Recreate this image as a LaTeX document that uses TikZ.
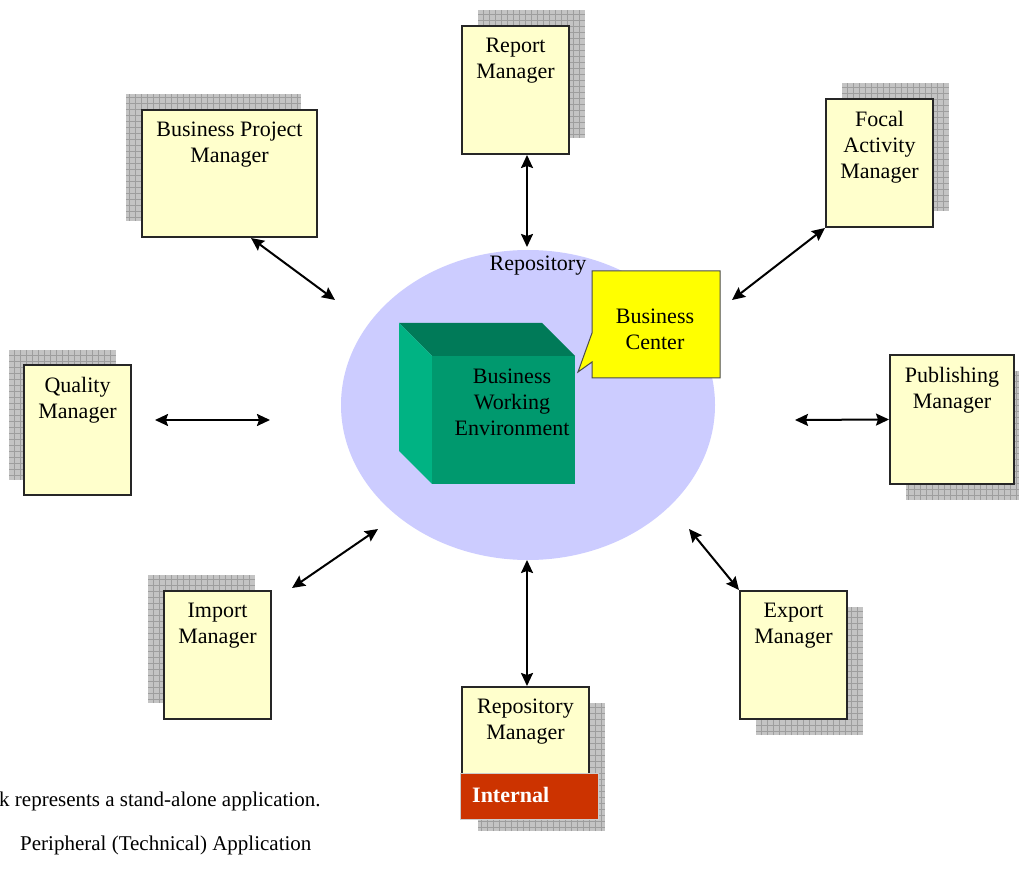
\documentclass[tikz,border=0pt]{standalone}
\usepackage{fontspec}
\setmainfont{Liberation Serif}
\usetikzlibrary{positioning,arrows.meta,shapes.geometric}
\definecolor{appyellow}{HTML}{FFFFCC}
\definecolor{gridgray}{HTML}{C4C4C4}
\definecolor{gridline}{HTML}{9E9E9E}
\definecolor{repoblue}{HTML}{CCCCFF}
\definecolor{cubefront}{HTML}{00996E}
\definecolor{cubetop}{HTML}{007A58}
\definecolor{cubeleft}{HTML}{00B383}
\definecolor{calloutyellow}{HTML}{FFFF00}
\definecolor{internalred}{HTML}{CC3300}
\begin{document}
\begin{tikzpicture}[x=1pt,y=1pt,
	app/.style={draw=black!85, line width=2pt, fill=appyellow, minimum width=107pt, minimum height=128pt, inner sep=0pt},
	shadowbox/.style={fill=gridgray, minimum width=107pt, minimum height=128pt, inner sep=0pt,
		path picture={\draw[gridline, line width=0.5pt] (path picture bounding box.south west) grid[step=6pt] (path picture bounding box.north east);}},
	lbl/.style={inner sep=0pt, align=center, font=\fontsize{22}{26}\selectfont},
	note/.style={anchor=west, inner sep=0pt, font=\fontsize{21}{25}\selectfont},
	link/.style={{Stealth[length=13pt,width=12pt,inset=2pt]}-{Stealth[length=13pt,width=12pt,inset=2pt]}, line width=2pt}]
	\useasboundingbox (0,0) rectangle (1019,868);
	\fill[white] (0,0) rectangle (1019,868);
	
	% Repository with the business working environment
	\node[ellipse, fill=repoblue, minimum width=374pt, minimum height=310pt, inner sep=0pt] (repo) at (528,463) {};
	\node[lbl] (repo-t) at (538,602) {Repository};
	\fill[cubetop] (399,545) -- (542,545) -- (575,512) -- (432,512) -- cycle;
	\fill[cubeleft] (399,545) -- (432,512) -- (432,384) -- (399,417) -- cycle;
	\node[fill=cubefront, minimum width=143pt, minimum height=128pt, inner sep=0pt] (bwe) at (503.5,448) {};
	\node[lbl] (bwe-t) at (512,466) {Business\\Working\\Environment};
	\filldraw[fill=calloutyellow, draw=black!70, line width=1pt] (592,597) -- (720,597) -- (720,490) -- (592,490) -- (592,506) -- (578,496) -- (592,535) -- cycle;
	\node[lbl] (bc-t) at (655,539) {Business\\Center};
	
	% Report Manager
	\node[shadowbox] (rm-s) at (531.5,794) {};
	\node[app] (rm) at (515.5,778) {};
	\node[lbl, below=13pt of rm.north] (rm-t) {Report\\Manager};
	
	% Business Project Manager
	\node[shadowbox, minimum width=175pt, minimum height=127pt] (bpm-s) at (213.5,710.5) {};
	\node[app, minimum width=175pt, minimum height=127pt] (bpm) at (229.5,694.5) {};
	\node[lbl, below=13pt of bpm.north] (bpm-t) {Business Project\\Manager};
	
	% Focal Activity Manager
	\node[shadowbox] (fam-s) at (895.5,721) {};
	\node[app] (fam) at (879.5,705) {};
	\node[lbl, below=13pt of fam.north] (fam-t) {Focal\\Activity\\Manager};
	
	% Quality Manager
	\node[shadowbox, minimum height=130pt] (qm-s) at (62.5,453) {};
	\node[app, minimum height=130pt] (qm) at (77.5,438) {};
	\node[lbl, below=13pt of qm.north] (qm-t) {Quality\\Manager};
	
	% Publishing Manager
	\node[shadowbox, minimum width=124pt, minimum height=129pt] (pm-s) at (968,432.5) {};
	\node[app, minimum width=124pt, minimum height=129pt] (pm) at (952,448.5) {};
	\node[lbl, below=13pt of pm.north] (pm-t) {Publishing\\Manager};
	
	% Import Manager
	\node[shadowbox] (im-s) at (201.5,229) {};
	\node[app] (im) at (217.5,213) {};
	\node[lbl, below=13pt of im.north] (im-t) {Import\\Manager};
	
	% Export Manager
	\node[shadowbox] (em-s) at (809.5,197) {};
	\node[app] (em) at (793.5,213) {};
	\node[lbl, below=13pt of em.north] (em-t) {Export\\Manager};
	
	% Repository Manager
	\node[shadowbox, minimum width=127pt] (repm-s) at (541.5,101) {};
	\node[app, minimum width=127pt] (repm) at (525.5,117) {};
	\node[lbl, below=13pt of repm.north] (repm-t) {Repository\\Manager};
	\node[fill=internalred, draw=white!80!black, line width=0.8pt, minimum width=138pt, minimum height=46pt, inner sep=0pt] (int) at (529,72) {};
	\node[anchor=west, inner sep=0pt, text=white, font=\fontsize{22}{26}\selectfont\bfseries] (int-t) at (472,73) {Internal};
	
	% links to the repository
	\coordinate (rm-e) at (527,621);
	\draw[link] (rm-e |- rm.south) -- (rm-e);
	\coordinate (bpm-e) at (335,568);
	\draw[link] ([xshift=21.5pt]bpm.south) -- (bpm-e);
	\coordinate (fam-e) at (732,568);
	\draw[link] (fam.south west) -- (fam-e);
	\coordinate (qm-a) at (155,448);
	\coordinate (qm-e) at (270,448);
	\draw[link] (qm-a) -- (qm-e);
	\coordinate (pm-e) at (795,448);
	\draw[link] (pm-e) -- (pm.west);
	\coordinate (im-a) at (292,280);
	\coordinate (im-e) at (378,339);
	\draw[link] (im-a) -- (im-e);
	\coordinate (em-e) at (689,339);
	\draw[link] (em-e) -- (em.north west);
	\coordinate (repm-e) at (527,308);
	\draw[link] (repm-e) -- (repm-e |- repm.north);
	
	% legend text
	\node[note] (note1) at (-1,67) {k represents a stand-alone application.};
	\node[note] (note2) at (20,23) {Peripheral (Technical) Application};
\end{tikzpicture}
\end{document}
